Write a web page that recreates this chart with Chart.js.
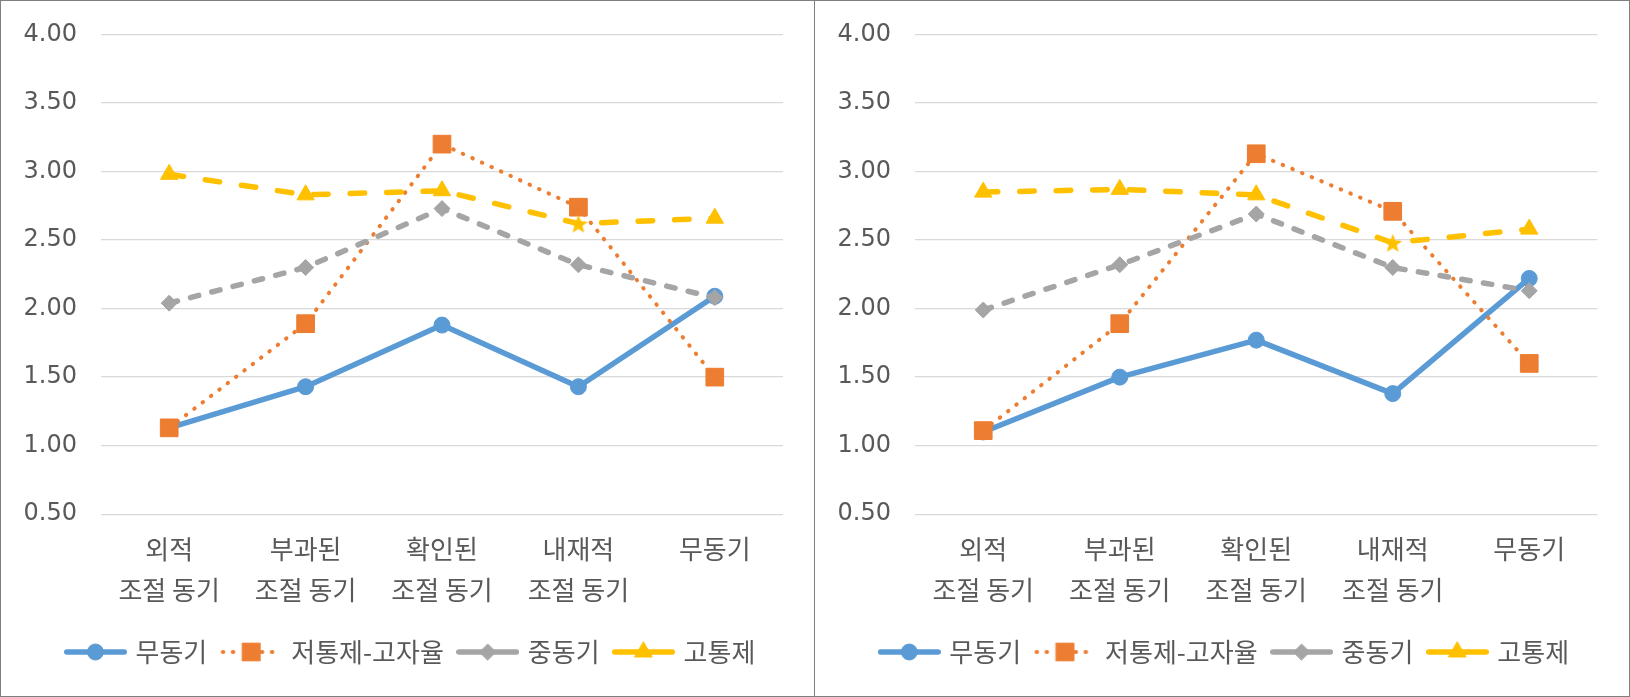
<!DOCTYPE html>
<html><head><meta charset="utf-8">
<script src="https://cdn.jsdelivr.net/npm/chart.js@4.4.1/dist/chart.umd.min.js"></script>
<style>
html,body{margin:0;padding:0;background:#fff;}
#frame{position:relative;width:1630px;height:697px;overflow:hidden;background:#fff;}
.panel{position:absolute;top:1px;height:695px;width:813px;}
#p1{left:1px;} #p2{left:816px;}
#border{position:absolute;left:0;top:0;width:1630px;height:697px;box-sizing:border-box;border:1px solid #7f7f7f;pointer-events:none;}
#divider{position:absolute;left:814px;top:0;width:1px;height:697px;background:#7f7f7f;pointer-events:none;}
</style></head>
<body>
<div id="frame">
  <div class="panel" id="p1"><canvas id="c1"></canvas></div>
  <div class="panel" id="p2"><canvas id="c2"></canvas></div>
  <div id="border"></div>
  <div id="divider"></div>
</div>
<script>
// ---------- data ----------
const categories = [["외적","조절 동기"],["부과된","조절 동기"],["확인된","조절 동기"],["내재적","조절 동기"],"무동기"];
const seriesNames = ["무동기","저통제-고자율","중동기","고통제"];

const leftAmotivated = [1.13, 1.43, 1.88, 1.43, 2.09];
const leftLowHigh    = [1.13, 1.89, 3.20, 2.74, 1.50];
const leftMiddle     = [2.04, 2.30, 2.73, 2.32, 2.08];
const leftHighCtrl   = [2.98, 2.83, 2.86, 2.62, 2.66];

const rightAmotivated = [1.10, 1.50, 1.77, 1.38, 2.22];
const rightLowHigh    = [1.11, 1.89, 3.13, 2.71, 1.60];
const rightMiddle     = [1.99, 2.32, 2.69, 2.30, 2.13];
const rightHighCtrl   = [2.85, 2.87, 2.83, 2.48, 2.58];

const yMin = 0.5, yMax = 4.0, yStep = 0.5;

// ---------- styles ----------
const FONT = "'Noto Sans CJK KR','Noto Sans',sans-serif";
const NUMFONT = "'DejaVu Sans','Noto Sans CJK KR',sans-serif";
const TEXT = '#595959';
const styles = [
  {color:'#5B9BD5', dash:[],          width:5.5, point:'circle',   radius:8},
  {color:'#ED7D31', dash:[0.5,10],    width:4,   point:'rect',     radius:12.5},
  {color:'#A5A5A5', dash:[8.5,13.5],  width:5.5, point:'rectRot',  radius:8},
  {color:'#FFC000', dash:[14.5,22],   width:5.5, point:'triangle', radius:10}
];

function starImage(color, R, r){
  const s = Math.ceil(2*R + 2);
  const c = document.createElement('canvas'); c.width = s; c.height = s;
  const g = c.getContext('2d');
  g.fillStyle = color; g.beginPath();
  for (let i = 0; i < 10; i++){
    const rad = (i % 2 === 0) ? R : r;
    const a = -Math.PI/2 + i*Math.PI/5;
    const x = s/2 + rad*Math.cos(a), y = s/2 + 1 + rad*Math.sin(a);
    if (i === 0) g.moveTo(x, y); else g.lineTo(x, y);
  }
  g.closePath(); g.fill();
  return c;
}
const starMarker = starImage('#FFC000', 10, 4.2);

function drawMarker(g, st, x, y){
  g.fillStyle = st.color; g.strokeStyle = st.color; g.lineWidth = 1; g.setLineDash([]);
  if (window.Chart && Chart.helpers && Chart.helpers.drawPoint){
    Chart.helpers.drawPoint(g, {pointStyle: st.point, radius: st.radius, borderWidth: 1, rotation: 0}, x, y);
    return;
  }
  g.beginPath(); g.arc(x, y, st.radius, 0, Math.PI*2); g.fill();
}

function legendIcon(st){
  const w = 63, h = 26;
  const c = document.createElement('canvas'); c.width = w; c.height = h;
  const g = c.getContext('2d');
  g.strokeStyle = st.color; g.lineWidth = st.width; g.lineCap = 'round';
  if (st.point === 'rect'){
    g.setLineDash([0.5, 9.5]);
    g.beginPath(); g.moveTo(3, h/2); g.lineTo(22, h/2); g.stroke();
    g.beginPath(); g.moveTo(42, h/2); g.lineTo(61, h/2); g.stroke();
  } else {
    g.setLineDash([]);
    g.beginPath(); g.moveTo(st.width/2, h/2); g.lineTo(w - st.width/2, h/2); g.stroke();
  }
  drawMarker(g, st, w/2, h/2);
  return c;
}

// shifts the (start-aligned) legend row so that it begins where the reference's does
const legendShift = {
  id: 'legendShift',
  afterLayout(chart, args, opts){
    const lg = chart.legend;
    if (!lg) return;
    const d = opts.left - lg.left;
    lg.left += d; lg.right += d;
  }
};

function makeConfig(series, axisWidth, padRight, legendLeft){
  const datasets = series.map((data, i) => {
    const st = styles[i];
    let pointStyle = st.point;
    if (i === 3) pointStyle = data.map((v, k) => k === 3 ? starMarker : st.point);
    return {
      label: seriesNames[i],
      data: data,
      borderColor: st.color,
      backgroundColor: st.color,
      borderWidth: st.width,
      borderDash: st.dash,
      borderCapStyle: 'round',
      borderJoinStyle: 'round',
      pointStyle: pointStyle,
      pointRadius: st.radius,
      pointBorderWidth: 1,
      pointBackgroundColor: st.color,
      pointBorderColor: st.color,
      tension: 0,
      fill: false,
      order: 4 - i
    };
  });
  const icons = styles.map(legendIcon);
  return {
    type: 'line',
    data: {labels: categories, datasets: datasets},
    plugins: [legendShift],
    options: {
      responsive: true,
      maintainAspectRatio: false,
      animation: false,
      events: [],
      layout: {padding: {top: 33.5, right: padRight, bottom: 21, left: 0}},
      scales: {
        x: {
          offset: true,
          grid: {display: false, drawTicks: false, offset: true},
          border: {display: false},
          ticks: {font: {family: FONT, size: 26, lineHeight: 1.577}, color: TEXT, padding: 14.3, maxRotation: 0, autoSkip: false},
          afterFit: s => { s.height = 107.8; s.paddingLeft = 0; s.paddingRight = 0; }
        },
        y: {
          min: yMin, max: yMax,
          grid: {color: '#D9D9D9', lineWidth: 1.3, drawTicks: false},
          border: {display: false},
          ticks: {stepSize: yStep, font: {family: NUMFONT, size: 24}, color: TEXT, padding: 24,
                  callback: v => Number(v).toFixed(2)},
          afterFit: s => { s.width = axisWidth; s.paddingTop = 0; s.paddingBottom = 0; }
        }
      },
      plugins: {
        tooltip: {enabled: false},
        legendShift: {left: legendLeft},
        legend: {
          position: 'bottom',
          align: 'start',
          labels: {
            usePointStyle: true,
            pointStyleWidth: 54,
            boxHeight: 24,
            padding: 17,
            color: TEXT,
            font: {family: FONT, size: 26},
            generateLabels: chart => chart.data.datasets.map((ds, i) => ({
              text: ds.label, fillStyle: ds.borderColor, strokeStyle: ds.borderColor,
              lineWidth: 0, pointStyle: icons[i], datasetIndex: i, hidden: false, fontColor: TEXT
            }))
          }
        }
      }
    }
  };
}

new Chart(document.getElementById('c1'), makeConfig([leftAmotivated, leftLowHigh, leftMiddle, leftHighCtrl], 100, 31, 50.5));
new Chart(document.getElementById('c2'), makeConfig([rightAmotivated, rightLowHigh, rightMiddle, rightHighCtrl], 99, 31.5, 49.3));
</script>
</body></html>
